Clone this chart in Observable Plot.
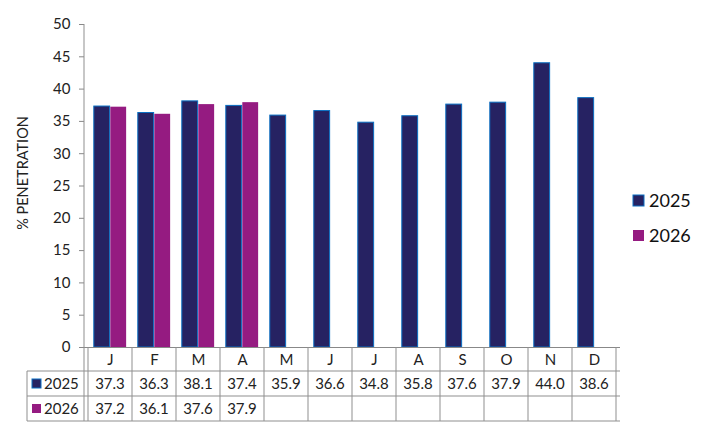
<!DOCTYPE html>
<html>
<head>
<meta charset="utf-8">
<script src="https://cdn.jsdelivr.net/npm/d3@7"></script>
<script src="https://cdn.jsdelivr.net/npm/@observablehq/plot@0.6"></script>
<style>
  html, body { margin: 0; padding: 0; background: #fff; }
  #chart { width: 703px; height: 427px; }
  svg { font-family: Lato, "Open Sans", sans-serif; }
</style>
</head>
<body>
<div id="chart"></div>
<script>
const months = ["J","F","M","A","M","J","J","A","S","O","N","D"];
const series = ["2025", "2026"];
const values2025 = [37.3, 36.3, 38.1, 37.4, 35.9, 36.6, 34.8, 35.8, 37.6, 37.9, 44.0, 38.6];
const values2026 = [37.2, 36.1, 37.6, 37.9];
const yTicks = [0, 5, 10, 15, 20, 25, 30, 35, 40, 45, 50];
const colors = {"2025": "#262262", "2026": "#951B81"};
const yLabel = "% PENETRATION";

const d25 = values2025.map((v, i) => ({i, v, s: "2025"}));
const d26 = values2026.map((v, i) => ({i, v, s: "2026"}));

const W = 703, H = 427;
const mL = 84, mR = 83, mT = 24, mB = 80;
const colW = (W - mL - mR) / months.length;
const barW = 16.5, outer = 5.8;

const plot = Plot.plot({
  width: W, height: H,
  marginLeft: mL, marginRight: mR, marginTop: mT, marginBottom: mB,
  style: {fontFamily: "Lato, sans-serif", color: "#222", background: "#fff"},
  x: {type: "band", domain: d3.range(months.length), padding: 0},
  y: {domain: [0, 50], ticks: yTicks},
  marks: [
    Plot.barY(d25, {x: "i", y: "v", fill: colors["2025"], stroke: "#0A6FC2", strokeWidth: 1,
      insetLeft: outer, insetRight: colW - outer - barW}),
    Plot.barY(d26, {x: "i", y: "v", fill: colors["2026"],
      insetLeft: outer + barW, insetRight: colW - outer - 2 * barW}),
    Plot.axisY({ticks: yTicks, tickSize: 5, tickPadding: 9, fontSize: 15, stroke: "#888", label: null}),
    Plot.axisX({tickSize: 0, tickPadding: 7, fontSize: 15, label: null, tickFormat: i => months[i]}),
    Plot.ruleY([0], {stroke: "#888"})
  ]
});

const svg = d3.select(plot);
const xs = plot.scale("x");
const ys = plot.scale("y");
const x0 = mL, x1 = W - mR;
const yAxis0 = ys.apply(0);
const y50 = ys.apply(50);
const gridColor = "#8f8f8f";
const g = svg.append("g").attr("text-anchor", "start");

// y axis line
g.append("line").attr("x1", x0).attr("x2", x0).attr("y1", y50).attr("y2", yAxis0 + 74).attr("stroke", gridColor);

// table rows
const rowTop = [yAxis0, yAxis0 + 24, yAxis0 + 49, yAxis0 + 74];
const tblLeft = 27;
[rowTop[1], rowTop[2], rowTop[3]].forEach(y => {
  g.append("line").attr("x1", tblLeft).attr("x2", x1).attr("y1", y).attr("y2", y).attr("stroke", gridColor);
});
g.append("line").attr("x1", tblLeft).attr("x2", tblLeft).attr("y1", rowTop[1]).attr("y2", rowTop[3]).attr("stroke", gridColor);
for (let k = 0; k <= months.length; k++) {
  const x = k < months.length ? xs.apply(k) : xs.apply(months.length - 1) + xs.bandwidth;
  g.append("line").attr("x1", x).attr("x2", x).attr("y1", rowTop[0]).attr("y2", rowTop[3]).attr("stroke", gridColor);
}
// row headers
const rowData = [values2025, values2026];
series.forEach((s, r) => {
  const yc = rowTop[r + 1];
  g.append("rect").attr("x", 32).attr("y", yc + 8).attr("width", 9).attr("height", 9)
    .attr("fill", colors[s]).attr("stroke", s === "2025" ? "#0A6FC2" : "none").attr("stroke-width", 1);
  g.append("text").attr("x", 44).attr("y", yc + 18).attr("text-anchor", "start").attr("font-size", 15).attr("fill", "#222").text(s);
  rowData[r].forEach((v, i) => {
    g.append("text").attr("x", xs.apply(i) + xs.bandwidth / 2).attr("y", yc + 18)
      .attr("text-anchor", "middle").attr("font-size", 15).attr("fill", "#222").text(v.toFixed(1));
  });
});

// y label
g.append("text").attr("transform", `translate(28,173) rotate(-90)`).attr("text-anchor", "middle")
  .attr("font-size", 14.5).attr("fill", "#222").text(yLabel);

// legend
series.forEach((s, r) => {
  const ly = 195 + r * 35;
  g.append("rect").attr("x", 633).attr("y", ly).attr("width", 11).attr("height", 11)
    .attr("fill", colors[s]).attr("stroke", s === "2025" ? "#0A6FC2" : "none").attr("stroke-width", 1);
  g.append("text").attr("x", 649).attr("y", ly + 12).attr("text-anchor", "start").attr("font-size", 18).attr("fill", "#111").text(s);
});

document.getElementById("chart").appendChild(plot);
</script>
</body>
</html>
